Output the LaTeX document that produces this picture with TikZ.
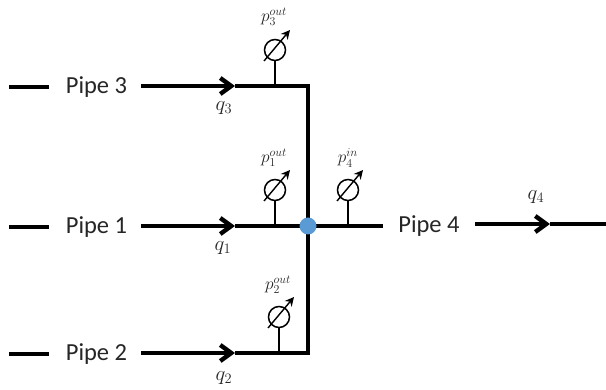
\documentclass[tikz,border=0pt]{standalone}
\usepackage{fontspec}
\setmainfont{Carlito}
\usetikzlibrary{arrows.meta}
\begin{document}
\begin{tikzpicture}[x=1pt,y=-1pt,
  pipelabel/.style={font=\fontsize{24.5}{28}\selectfont,text=black!85,inner sep=0pt},
  mathlabel/.style={font=\fontsize{19.5}{23}\selectfont,text=black!85,inner sep=0pt},
  gaugelabel/.style={font=\fontsize{17.5}{20}\selectfont,text=black!85,inner sep=0pt},
  heavy/.style={line width=3.6pt,black},
  heavyarrow/.style={line width=4.4pt,black,-{Straight Barb[length=11pt,width=16pt,line width=4.4pt]}},
  stemline/.style={line width=1.4pt,black},
  gaugecircle/.style={circle,draw=black,line width=1.5pt,minimum size=21pt,inner sep=0pt},
  needle/.style={line width=1.4pt,black,-{Stealth[length=9pt,width=9pt]}}]
\useasboundingbox (0,0) rectangle (606,390);
\definecolor{junc}{HTML}{5B9BD5}
% left stubs
\foreach \n/\y in {3/86,1/226,2/353}{
  \coordinate (sa\n) at (9,\y+1);
  \coordinate (sb\n) at (49,\y+1);
  \draw[heavy] (sa\n) -- (sb\n);
  \node[pipelabel] (pipe\n) at (96.5,\y+1) {Pipe \n};
  \coordinate (in\n) at (141,\y);
  \coordinate (ah\n) at (235,\y);
  \coordinate (tee\n) at (308,\y);
  \draw[heavy] (ah\n) -- (tee\n);
  \draw[heavyarrow] (in\n) -- (ah\n);
}
\draw[heavy,line cap=rect] (tee3) -- (tee2);
\coordinate (j) at (308,226);
\coordinate (out4) at (383,226);
\draw[heavy] (j) -- (out4);
\node[pipelabel] (pipe4) at (429,226) {Pipe 4};
\coordinate (in4) at (475,224);
\coordinate (ah4) at (550,224);
\coordinate (end4) at (606,224);
\draw[heavy] (ah4) -- (end4);
\draw[heavyarrow] (in4) -- (ah4);
\node[fill=junc,circle,minimum size=17pt,inner sep=0pt] (jn) at (j) {};
% gauges
\foreach \n/\x/\y/\t in {g3/275/50/86,g1/275/190/226,g4/348/190/226,g2/279/317/353}{
  \node[gaugecircle] (\n) at (\x,\y) {};
  \coordinate (\n foot) at (\x,\t);
  \draw[stemline] (\n) -- (\n foot);
  \coordinate (\n a) at (\x-11,\y+11);
  \coordinate (\n b) at (\x+15,\y-20);
  \draw[needle] (\n a) -- (\n b);
}
\node[gaugelabel] (lp3) at (274,17) {$p_3^{out}$};
\node[gaugelabel] (lp1) at (274,158) {$p_1^{out}$};
\node[gaugelabel] (lp4) at (348,158) {$p_4^{in}$};
\node[gaugelabel] (lp2) at (278,285) {$p_2^{out}$};
\node[mathlabel] (q3) at (224,108) {$q_3$};
\node[mathlabel] (q1) at (223,248) {$q_1$};
\node[mathlabel] (q2) at (224,378) {$q_2$};
\node[mathlabel] (q4) at (536,197) {$q_4$};
\end{tikzpicture}
\end{document}
